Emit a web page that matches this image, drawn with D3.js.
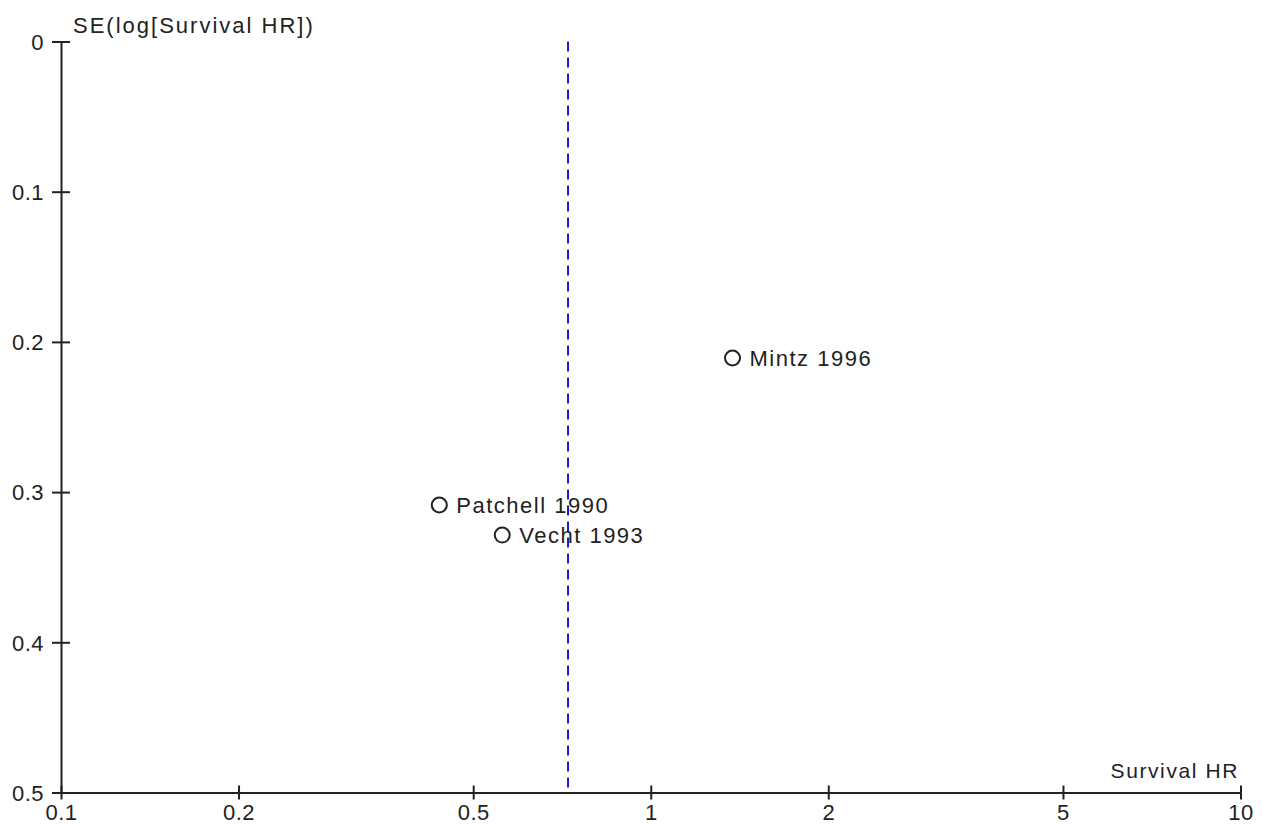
<!DOCTYPE html>
<html>
<head>
<meta charset="utf-8">
<script src="https://cdn.jsdelivr.net/npm/d3@7"></script>
<style>
  body { margin: 0; background: #fff; }
  text { font-family: "Liberation Sans", Arial, sans-serif; fill: #222; }
</style>
</head>
<body>
<svg width="1262" height="827"></svg>
<script>
var studies = ['Mintz 1996', 'Patchell 1990', 'Vecht 1993'];
var hazardRatios = [1.376, 0.438, 0.56];
var standardErrors = [0.2107, 0.3086, 0.3286];
var pooledHR = 0.724;
var xTicks = [0.1, 0.2, 0.5, 1, 2, 5, 10];
var yTicks = [0, 0.1, 0.2, 0.3, 0.4, 0.5];

// plot box (note: "top" is taken by window.top)
var plotLeft = 61, plotRight = 1240.5, plotTop = 41.5, plotBottom = 792.5;

var svg = d3.select('svg');

var x = d3.scaleLog().domain([0.1, 10]).range([plotLeft, plotRight]);
var y = d3.scaleLinear().domain([0, 0.5]).range([plotTop, plotBottom]);

var xAxis = d3.axisBottom(x)
  .tickValues(xTicks)
  .tickFormat(function(d) { return d; })
  .tickSizeInner(7)
  .tickSizeOuter(0)
  .tickPadding(10);

var yAxis = d3.axisLeft(y)
  .tickValues(yTicks)
  .tickFormat(function(d) { return d; })
  .tickSizeInner(9)
  .tickSizeOuter(0)
  .tickPadding(9);

var gx = svg.append('g')
  .attr('transform', 'translate(0,' + plotBottom + ')')
  .call(xAxis);

var gy = svg.append('g')
  .attr('transform', 'translate(' + plotLeft + ',0)')
  .call(yAxis);

[gx, gy].forEach(function(g) {
  g.select('.domain').attr('stroke', '#222').attr('stroke-width', 2);
  g.selectAll('.tick line').attr('stroke', '#222').attr('stroke-width', 2);
  g.selectAll('.tick text')
    .attr('fill', '#222')
    .style('font-size', '22px')
    .style('letter-spacing', '0.5px');
});

// ticks cross the axis line
gx.selectAll('.tick line').attr('y1', -7);
gy.selectAll('.tick line').attr('x1', 9).attr('x2', -9);
gy.selectAll('.tick text').attr('x', -17).attr('dy', '0.35em');
gx.selectAll('.tick text').attr('y', 12);

svg.append('text')
  .attr('x', 73)
  .attr('y', 33)
  .style('font-size', '22px')
  .style('letter-spacing', '2px')
  .text('SE(log[Survival HR])');

svg.append('text')
  .attr('x', 1239)
  .attr('y', 778)
  .attr('text-anchor', 'end')
  .style('font-size', '21px')
  .style('letter-spacing', '1.6px')
  .text('Survival HR');

svg.append('line')
  .attr('x1', x(pooledHR))
  .attr('x2', x(pooledHR))
  .attr('y1', y(0))
  .attr('y2', y(0.5) - 4)
  .attr('stroke', '#1a1acc')
  .attr('stroke-width', 2)
  .attr('stroke-dasharray', '10,6');

var points = svg.append('g').selectAll('g')
  .data(studies)
  .enter()
  .append('g')
  .attr('transform', function(d, i) {
    return 'translate(' + x(hazardRatios[i]) + ',' + y(standardErrors[i]) + ')';
  });

points.append('circle')
  .attr('r', 7.5)
  .attr('fill', 'none')
  .attr('stroke', '#222')
  .attr('stroke-width', 2);

points.append('text')
  .attr('x', 17)
  .attr('dy', '0.36em')
  .style('font-size', '22px')
  .style('letter-spacing', '1.5px')
  .text(function(d) { return d; });
</script>
</body>
</html>
